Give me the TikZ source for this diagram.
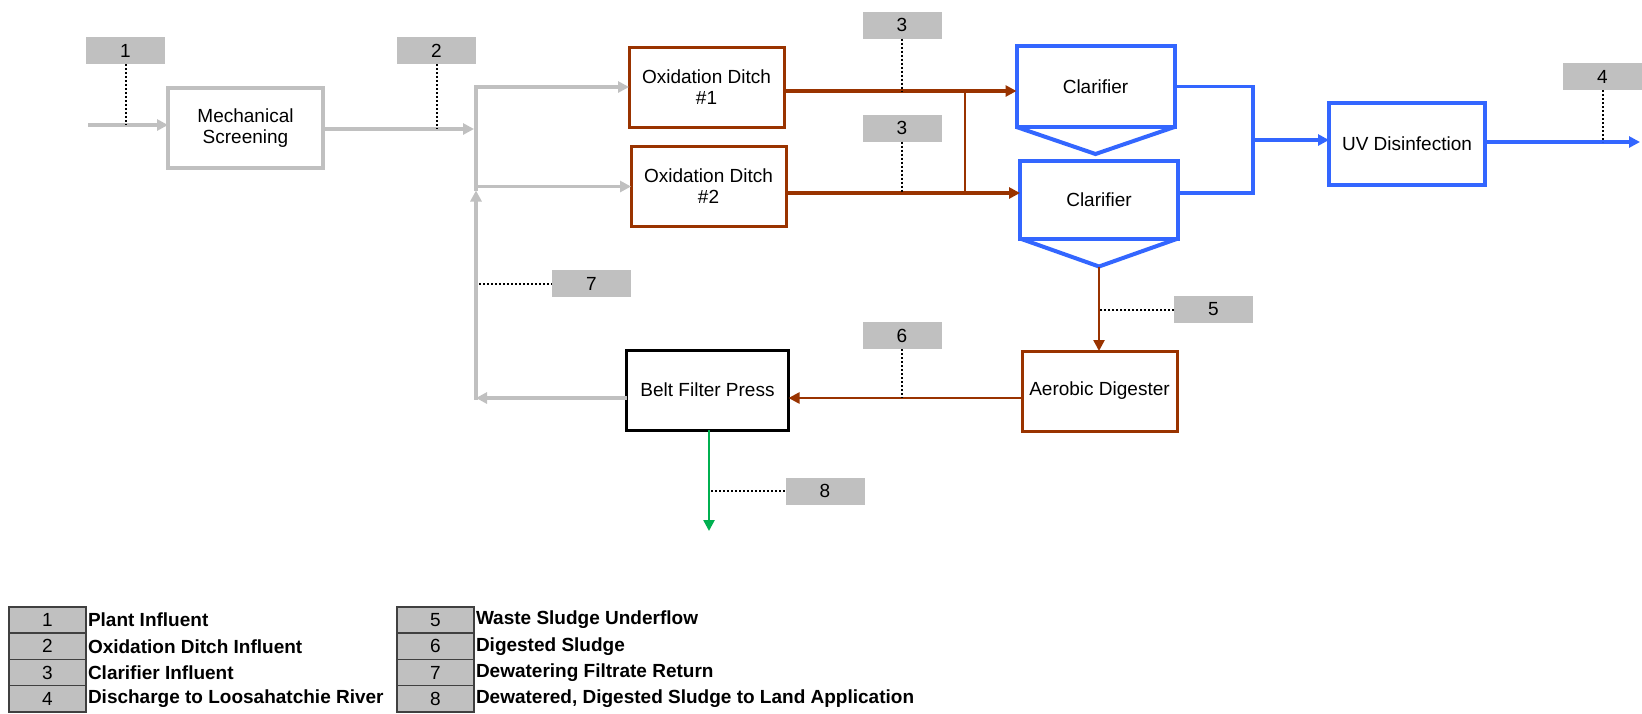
\documentclass[tikz,border=0pt]{standalone}
\usepackage{fontspec}
\setmainfont{Liberation Sans}
\usepackage{tikz}
\usetikzlibrary{arrows.meta,positioning,calc}

\definecolor{feedgrey}{HTML}{C0C0C0}
\definecolor{sludge}{HTML}{993300}
\definecolor{effluent}{HTML}{3366FF}
\definecolor{cake}{HTML}{00B050}

\begin{document}
\begin{tikzpicture}[x=1pt,y=-1pt,
  every node/.style={font=\fontsize{19}{21}\selectfont, align=center, inner sep=0pt, outer sep=0pt},
  stage/.style={draw, line width=3pt, minimum width=155pt, minimum height=80pt},
  stream/.style={fill=feedgrey, minimum width=79pt, minimum height=27pt},
  leader/.style={line width=2pt, dash pattern=on 2pt off 2pt},
  head/.style={-{Triangle[length=11pt,width=11pt]}},
  keybox/.style={fill=feedgrey, draw=black!75, line width=1.5pt, minimum width=77pt, minimum height=26.25pt},
  keytext/.style={anchor=west, font=\fontsize{19}{21}\selectfont\bfseries}]
  \path[use as bounding box, fill=white] (0,0) rectangle (1642,713);

  % process units
  \node[stage, draw=feedgrey, line width=3.5pt] (screen) at (245.5,128) {Mechanical\\Screening};
  \node[stage, draw=sludge] (ditch1) at (706.5,87) {Oxidation Ditch\\\#1};
  \node[stage, draw=sludge] (ditch2) at (708.5,186.5) {Oxidation Ditch\\\#2};
  \node[stage, draw=effluent, line width=4pt, minimum width=158pt, minimum height=81pt] (clar1) at (1095.5,86.5) {Clarifier};
  \node[stage, draw=effluent, line width=4pt, minimum width=158pt, minimum height=78pt] (clar2) at (1099,199.5) {Clarifier};
  \node[stage, draw=effluent, line width=4pt, minimum width=156pt, minimum height=82pt] (uv) at (1407,144) {UV Disinfection};
  \node[stage, draw=sludge] (digest) at (1099.5,391) {Aerobic Digester};
  \node[stage, draw=black, minimum width=162pt] (press) at (707.5,390) {Belt Filter Press};
  \draw[effluent, line width=4pt] (clar1.south west) -- ($(clar1.south)+(0,27)$) coordinate (clar1v) -- (clar1.south east);
  \draw[effluent, line width=4pt] (clar2.south west) -- ($(clar2.south)+(0,28)$) coordinate (clar2v) -- (clar2.south east);

  % stream numbers
  \node[stream] (s1) at (125.5,50.5) {1};
  \node[stream] (s2) at (436.5,50.5) {2};
  \node[stream] (s3a) at (902,25) {3};
  \node[stream] (s3b) at (902,128) {3};
  \node[stream] (s4) at (1602.5,76.5) {4};
  \node[stream] (s5) at (1213.5,309.5) {5};
  \node[stream] (s6) at (902,335.5) {6};
  \node[stream] (s7) at (591.5,283.5) {7};
  \node[stream] (s8) at (825,491) {8};

  \coordinate (feed) at (88,125);
  \coordinate (split) at (476,129);
  \coordinate (row1) at (0,91);
  \coordinate (row2) at (0,193);
  \coordinate (tie) at (965,0);
  \coordinate (merge) at (1253,140);
  \coordinate (outfall) at (1640,142);
  \coordinate (recycle) at (0,398);
  \coordinate (land) at (709,531);

  % liquid train
  \draw[feedgrey, line width=3.5pt, head] (feed) -- (feed -| screen.west);
  \draw[feedgrey, line width=3.5pt, head] (screen.east |- split) -- ($(split)+(-2,0)$);
  \draw[feedgrey, line width=3.5pt, head] (ditch2.west -| split) -- (ditch1.west -| split) -- (ditch1.west);
  \draw[feedgrey, line width=3.5pt, head] ($(ditch2.west -| split)+(0,4)$) |- (ditch2.west);
  \draw[sludge, line width=3.5pt, head] (ditch1.east |- row1) -- (clar1.west |- row1);
  \draw[sludge, line width=3.5pt, head] (ditch2.east |- row2) -- (clar2.west |- row2);
  \draw[sludge, line width=2.5pt] (tie |- row1) -- (tie |- row2);
  \draw[effluent, line width=3.5pt] (clar1.east) -- (clar1.east -| merge) -- (merge |- row2) -- (clar2.east |- row2);
  \draw[effluent, line width=3.5pt, head] (merge) -- (merge -| uv.west);
  \draw[effluent, line width=3.5pt, head] (uv.east |- outfall) -- (outfall);

  % solids train
  \draw[sludge, line width=2.5pt, head] (clar2v) -- (clar2v |- digest.north);
  \draw[sludge, line width=2.5pt, head] (digest.west |- recycle) -- (press.east |- recycle);
  \draw[feedgrey, line width=3.5pt, head] (press.west |- recycle) -- (split |- recycle);
  \draw[feedgrey, line width=3.5pt, head] ($(split |- recycle)+(0,1.75)$) -- ($(ditch2.west -| split)+(0,4)$);
  \draw[cake, line width=2.5pt, head] (press.south -| land) -- (land);

  % stream leaders
  \draw[leader] (s1.south) -- (s1.south |- feed);
  \draw[leader] (s2.south) -- (s2.south |- split);
  \draw[leader] (s3a.south) -- (s3a.south |- row1);
  \draw[leader] (s3b.south) -- (s3b.south |- row2);
  \draw[leader] (s4.south) -- (s4.south |- outfall);
  \draw[leader] (s5.west) -- (s5.west -| clar2v);
  \draw[leader] (s6.south) -- (s6.south |- recycle);
  \draw[leader] ($(s7.west -| split)+(3,0)$) -- (s7.west);
  \draw[leader] ($(s8.west -| land)+(2,0)$) -- (s8.west);

  % legend
  \foreach \n/\txt [count=\i from 0] in {1/Plant Influent, 2/Oxidation Ditch Influent, 3/Clarifier Influent, 4/Discharge to Loosahatchie River}{
    \node[keybox] (key\n) at (47.5,620.1+26.25*\i) {\n};
    \node[keytext, right=2pt of key\n] (entry\n) {\txt};
  }
  \foreach \n/\txt [count=\i from 0] in {5/Waste Sludge Underflow, 6/Digested Sludge, 7/Dewatering Filtrate Return, 8/{Dewatered, Digested Sludge to Land Application}}{
    \node[keybox] (key\n) at (435.5,620.1+26.25*\i) {\n};
    \node[keytext, right=2pt of key\n] (entry\n) {\txt};
  }
\end{tikzpicture}
\end{document}
